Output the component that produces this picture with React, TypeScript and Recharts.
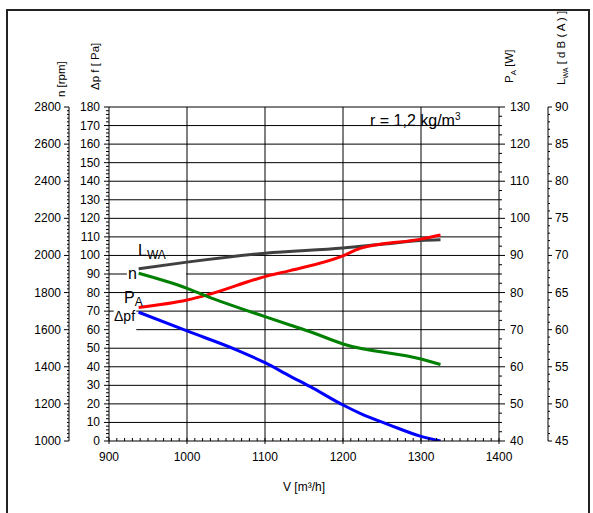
import React from 'react';
import { ComposedChart, Line, XAxis, YAxis, ReferenceLine } from 'recharts';

const FONT = '"Liberation Sans", Arial, Helvetica, sans-serif';

// Tick labels
const vLabels = [900, 1000, 1100, 1200, 1300, 1400];
const paLabels = [0, 10, 20, 30, 40, 50, 60, 70, 80, 90, 100, 110, 120, 130, 140, 150, 160, 170, 180];
const rpmLabels = [1000, 1200, 1400, 1600, 1800, 2000, 2200, 2400, 2600, 2800];
const wLabels = [40, 50, 60, 70, 80, 90, 100, 110, 120, 130];
const dbLabels = [45, 50, 55, 60, 65, 70, 75, 80, 85, 90];
const vGrid = [1000, 1100, 1200, 1300];

// Gridline segments partly hidden behind the curve-label boxes: [Pa, fromV, toV]
const hiddenGrid = [60, 70, 90];
const gridSegments: [number, number, number][] = [
  [60, 935, 1400],
  [70, 900, 906],
  [70, 935, 1400],
  [90, 900, 923],
  [90, 999, 1400],
];

const steps = (a: number, b: number, s: number) => {
  const r: number[] = [];
  for (let i = 0; a + i * s <= b + 1e-9; i++) r.push(+(a + i * s).toFixed(2));
  return r;
};
const vTicks = steps(900, 1400, 10);
const paTicks = steps(0, 180, 2);
const rpmTicks = steps(1000, 2800, 20);
const wTicks = steps(40, 130, 2.5);
const dbTicks = steps(45, 90, 1);

// Series: Δpf [Pa]
const dpfV = [938, 1000, 1064, 1100, 1132, 1158, 1200, 1222, 1260, 1300, 1325];
const dpfPa = [69.4, 59.3, 49.0, 42.2, 35.0, 29.3, 19.4, 14.9, 8.6, 2.5, 0];
// n [rpm]
const nV = [938, 1000, 1025, 1100, 1132, 1158, 1200, 1300, 1325];
const nRpm = [1904, 1823, 1781, 1670, 1625, 1589, 1523, 1442, 1412];
// P_A [W]
const paV = [938, 1000, 1025, 1100, 1132, 1200, 1222, 1300, 1325];
const paW = [76.0, 78.0, 79.3, 84.3, 85.9, 89.9, 91.9, 94.4, 95.5];
// L_WA [dB(A)]
const lwV = [938, 1000, 1100, 1200, 1250, 1300, 1325];
const lwDb = [68.2, 69.1, 70.3, 71.0, 71.5, 72.0, 72.1];

const dpfData = dpfV.map((v, i) => ({ v, y: dpfPa[i] }));
const nData = nV.map((v, i) => ({ v, y: nRpm[i] }));
const pData = paV.map((v, i) => ({ v, y: paW[i] }));
const lData = lwV.map((v, i) => ({ v, y: lwDb[i] }));

const TXT = { fontFamily: FONT, fill: '#000' } as const;

const XTick = (p: any) => {
  const v = p.payload.value;
  const major = vLabels.includes(v);
  return (
    <g>
      {major ? (
        <line x1={p.x} x2={p.x} y1={p.y - 3} y2={p.y + 3} stroke="#000" />
      ) : (
        <line x1={p.x} x2={p.x} y1={p.y - 3} y2={p.y} stroke="#000" />
      )}
      {major && (
        <text x={p.x} y={p.y + 20} textAnchor="middle" fontSize={12} style={TXT}>
          {v}
        </text>
      )}
    </g>
  );
};

const makeLeftTick = (labels: number[], majLen: number, minLen: number, gap: number) => (p: any) => {
  const v = p.payload.value;
  const major = labels.includes(v);
  return (
    <g>
      <line x1={p.x - (major ? majLen : minLen)} x2={p.x} y1={p.y} y2={p.y} stroke="#000" />
      {major && (
        <text x={p.x - gap} y={p.y + 4} textAnchor="end" fontSize={12} style={TXT}>
          {v}
        </text>
      )}
    </g>
  );
};

const makeRightTick = (labels: number[], majLen: number, minLen: number, gap: number) => (p: any) => {
  const v = p.payload.value;
  const major = labels.includes(v);
  return (
    <g>
      <line x1={p.x} x2={p.x + (major ? majLen : minLen)} y1={p.y} y2={p.y} stroke="#000" />
      {major && (
        <text x={p.x + gap} y={p.y + 4} textAnchor="start" fontSize={12} style={TXT}>
          {v}
        </text>
      )}
    </g>
  );
};

const PaTick = makeLeftTick(paLabels, 5, 3, 9);
const RpmTick = makeLeftTick(rpmLabels, 5, 2, 8);
const WTick = makeRightTick(wLabels, 6, 3, 11);
const DbTick = makeRightTick(dbLabels, 4, 2, 7);

export default function App() {
  return (
    <div
      style={{
        position: 'absolute',
        left: 0,
        top: 0,
        width: 593,
        height: 513,
        overflow: 'hidden',
        background: '#fff',
        fontFamily: FONT,
      }}
    >
      <div
        style={{
          position: 'absolute',
          left: 6,
          top: 9,
          width: 580,
          height: 530,
          border: '2px solid #222',
        }}
      />
      <div style={{ position: 'absolute', left: 0, top: 0 }}>
        <ComposedChart width={593} height={513} margin={{ top: 107, right: 5, bottom: 12, left: 9 }}>
          <XAxis
            type="number"
            dataKey="v"
            domain={[900, 1400]}
            ticks={vTicks}
            interval={0}
            height={60}
            tickSize={0}
            tickMargin={0}
            tick={(p: any) => <XTick {...p} />}
            axisLine={{ stroke: '#000' }}
            allowDataOverflow
          />
          <YAxis
            yAxisId="l1"
            orientation="left"
            type="number"
            domain={[0, 180]}
            ticks={paTicks}
            interval={0}
            width={40}
            tickSize={0}
            tickMargin={0}
            tick={(p: any) => <PaTick {...p} />}
            axisLine={{ stroke: '#000' }}
            allowDataOverflow
          />
          <YAxis
            yAxisId="l2"
            orientation="left"
            type="number"
            domain={[1000, 2800]}
            ticks={rpmTicks}
            interval={0}
            width={60}
            tickSize={0}
            tickMargin={0}
            tick={(p: any) => <RpmTick {...p} />}
            axisLine={{ stroke: '#000' }}
            allowDataOverflow
          />
          <YAxis
            yAxisId="r1"
            orientation="right"
            type="number"
            domain={[40, 130]}
            ticks={wTicks}
            interval={0}
            width={49}
            tickSize={0}
            tickMargin={0}
            tick={(p: any) => <WTick {...p} />}
            axisLine={{ stroke: '#000' }}
            allowDataOverflow
          />
          <YAxis
            yAxisId="r2"
            orientation="right"
            type="number"
            domain={[45, 90]}
            ticks={dbTicks}
            interval={0}
            width={40}
            tickSize={0}
            tickMargin={0}
            tick={(p: any) => <DbTick {...p} />}
            axisLine={{ stroke: '#000' }}
            allowDataOverflow
          />
          {paLabels
            .slice(1)
            .filter((v) => !hiddenGrid.includes(v))
            .map((v) => (
              <ReferenceLine key={'h' + v} y={v} yAxisId="l1" stroke="#000" strokeWidth={1} />
            ))}
          {gridSegments.map(([pa, a, b], i) => (
            <ReferenceLine
              key={'s' + i}
              yAxisId="l1"
              segment={[
                { x: a, y: pa },
                { x: b, y: pa },
              ]}
              stroke="#000"
              strokeWidth={1}
            />
          ))}
          {vGrid.map((v) => (
            <ReferenceLine key={'v' + v} x={v} yAxisId="l1" stroke="#000" strokeWidth={1} />
          ))}
          <Line data={lData} dataKey="y" yAxisId="r2" type="monotone" stroke="#404040" strokeWidth={3} dot={false} isAnimationActive={false} />
          <Line data={pData} dataKey="y" yAxisId="r1" type="monotone" stroke="#ff0000" strokeWidth={3} dot={false} isAnimationActive={false} />
          <Line data={nData} dataKey="y" yAxisId="l2" type="monotone" stroke="#008000" strokeWidth={3} dot={false} isAnimationActive={false} />
          <Line data={dpfData} dataKey="y" yAxisId="l1" type="monotone" stroke="#0000ff" strokeWidth={3} dot={false} isAnimationActive={false} />
        </ComposedChart>
      </div>
      <svg
        width={593}
        height={513}
        style={{ position: 'absolute', left: 0, top: 0, pointerEvents: 'none' }}
      >
        <g style={TXT}>
          <text transform="translate(65,97) rotate(-90)" fontSize={11.5}>n  [rpm]</text>
          <text transform="translate(99,90) rotate(-90)" fontSize={11.5}>Δp f  [ Pa]</text>
          <text transform="translate(513,83) rotate(-90)" fontSize={11.5}>
            P<tspan fontSize={8} dy={3}>A</tspan>
            <tspan dy={-3}> [W]</tspan>
          </text>
          <text transform="translate(565,85) rotate(-90)" fontSize={11.5}>
            L<tspan fontSize={7} dy={3}>WA</tspan>
            <tspan dy={-3}> [ d B ( A ) ]</tspan>
          </text>
          <text x={138} y={256} fontSize={16}>
            L<tspan fontSize={12} dy={3}>WA</tspan>
          </text>
          <text x={128} y={279} fontSize={16}>n</text>
          <text x={124} y={303} fontSize={16}>
            P<tspan fontSize={12} dy={3}>A</tspan>
          </text>
          <text x={114} y={321} fontSize={14}>Δpf</text>
          <text x={370} y={126} fontSize={16}>
            r = 1,2 kg/m<tspan fontSize={10} dy={-6}>3</tspan>
          </text>
          <text x={304} y={491} fontSize={12} textAnchor="middle">V [m³/h]</text>
        </g>
      </svg>
    </div>
  );
}
